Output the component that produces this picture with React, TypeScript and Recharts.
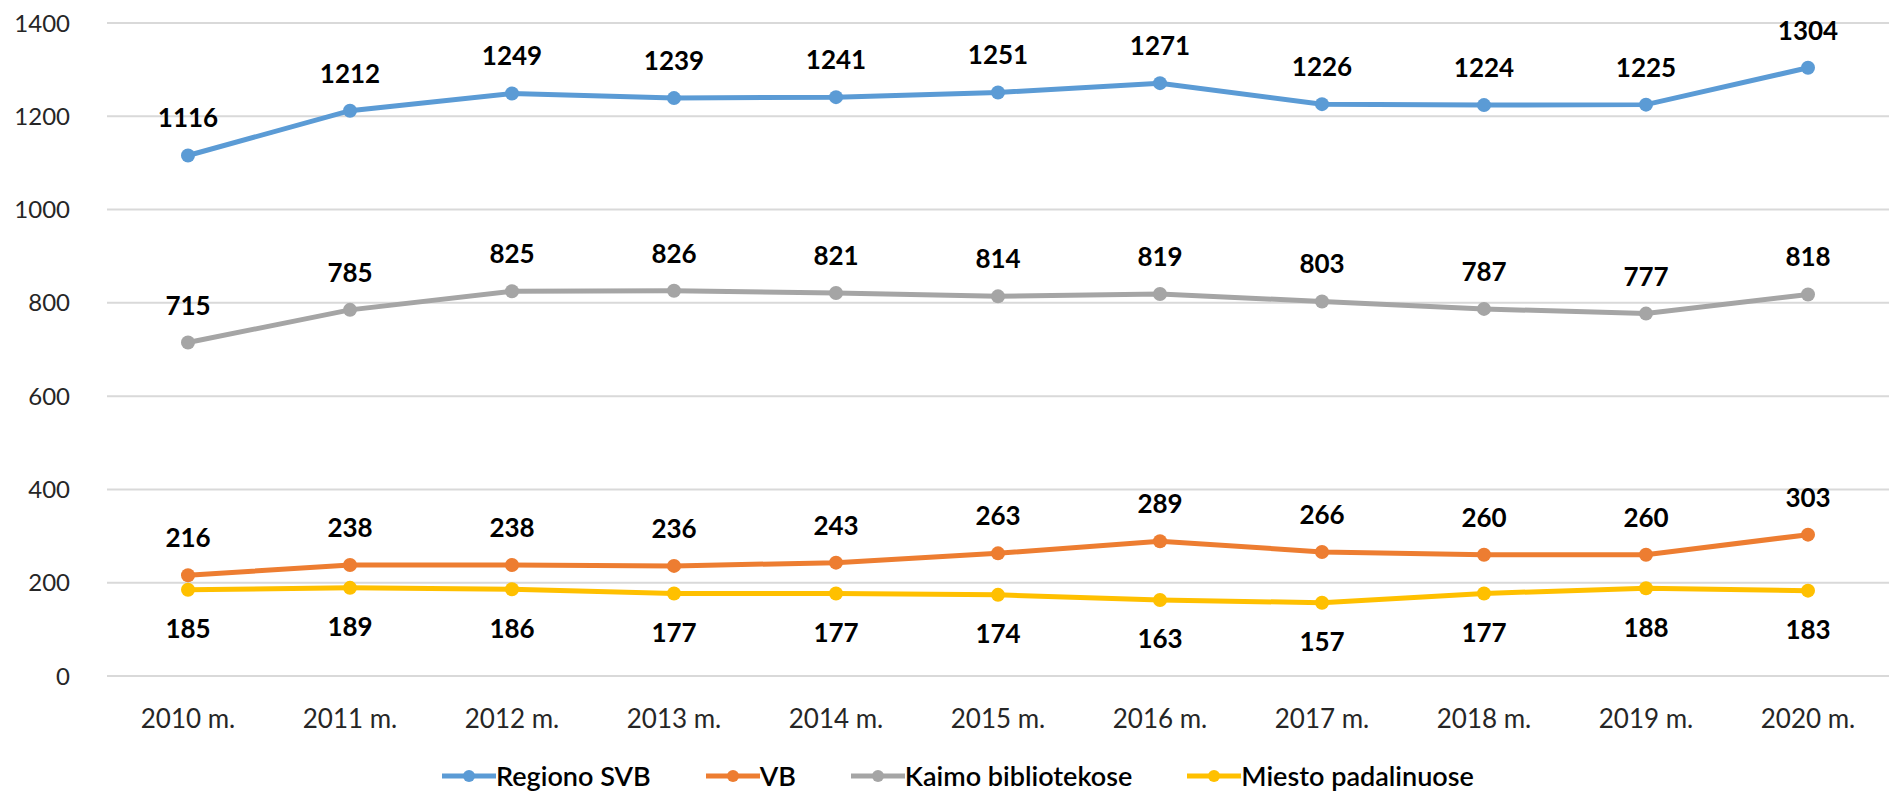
import { LineChart, Line, XAxis, YAxis, CartesianGrid, Legend, LabelList } from 'recharts'

const years = ['2010 m.', '2011 m.', '2012 m.', '2013 m.', '2014 m.', '2015 m.', '2016 m.', '2017 m.', '2018 m.', '2019 m.', '2020 m.']
const regionoSVB = [1116, 1212, 1249, 1239, 1241, 1251, 1271, 1226, 1224, 1225, 1304]
const vb = [216, 238, 238, 236, 243, 263, 289, 266, 260, 260, 303]
const kaimo = [715, 785, 825, 826, 821, 814, 819, 803, 787, 777, 818]
const miesto = [185, 189, 186, 177, 177, 174, 163, 157, 177, 188, 183]
const yTicks = [0, 200, 400, 600, 800, 1000, 1200, 1400]

const series = [
  { key: 'regiono', name: 'Regiono SVB', color: '#5B9BD5', pos: 'top' },
  { key: 'vb', name: 'VB', color: '#ED7D31', pos: 'top' },
  { key: 'kaimo', name: 'Kaimo bibliotekose', color: '#A5A5A5', pos: 'top' },
  { key: 'miesto', name: 'Miesto padalinuose', color: '#FFC000', pos: 'bottom' },
] as const

const data = years.map((y, i) => ({
  year: y,
  regiono: regionoSVB[i],
  vb: vb[i],
  kaimo: kaimo[i],
  miesto: miesto[i],
}))

const FONT = 'Lato, "Open Sans", sans-serif'

function LegendBox() {
  return (
    <div style={{ display: 'flex', alignItems: 'center', fontFamily: FONT, fontSize: 27, fontWeight: 600, color: '#000', whiteSpace: 'nowrap' }}>
      {series.map((s) => (
        <div key={s.key} style={{ display: 'flex', alignItems: 'center', marginRight: 55 }}>
          <svg width={54} height={16} style={{ display: 'block' }}>
            <line x1={0} y1={8} x2={54} y2={8} stroke={s.color} strokeWidth={5} />
            <circle cx={27} cy={8} r={6} fill={s.color} />
          </svg>
          <span>{s.name}</span>
        </div>
      ))}
    </div>
  )
}

export default function App() {
  return (
    <div style={{ position: 'absolute', left: 0, top: 0, width: 1889, height: 792, background: '#fff', fontFamily: FONT }}>
      <LineChart width={1889} height={792} data={data} margin={{ top: 23, right: 0, left: 0, bottom: 56 }}>
        <CartesianGrid vertical={false} stroke="#D9D9D9" strokeWidth={2} />
        <XAxis
          dataKey="year"
          axisLine={false}
          tickLine={false}
          tickSize={0}
          tickMargin={34}
          height={60}
          padding={{ left: 81, right: 81 }}
          tick={{ fontSize: 26, fill: '#262626', fontFamily: FONT }}
        />
        <YAxis
          domain={[0, 1400]}
          ticks={yTicks}
          axisLine={false}
          tickLine={false}
          tickSize={0}
          tickMargin={37}
          width={107}
          tick={{ fontSize: 24, fill: '#262626', fontFamily: FONT }}
        />
        <Legend
          layout="horizontal"
          verticalAlign="middle"
          align="center"
          wrapperStyle={{ top: 759, left: 442, width: 'auto' }}
          content={() => <LegendBox />}
        />
        {series.map((s) => (
          <Line
            key={s.key}
            dataKey={s.key}
            name={s.name}
            stroke={s.color}
            strokeWidth={5}
            dot={{ r: 7, fill: s.color, stroke: s.color, strokeWidth: 0 }}
            activeDot={false}
            isAnimationActive={false}
          >
            <LabelList
              dataKey={s.key}
              position={s.pos}
              offset={s.pos === 'top' ? 28 : 30}
              style={{ fontSize: 26, fontWeight: 700, fill: '#000', fontFamily: FONT }}
            />
          </Line>
        ))}
      </LineChart>
    </div>
  )
}
